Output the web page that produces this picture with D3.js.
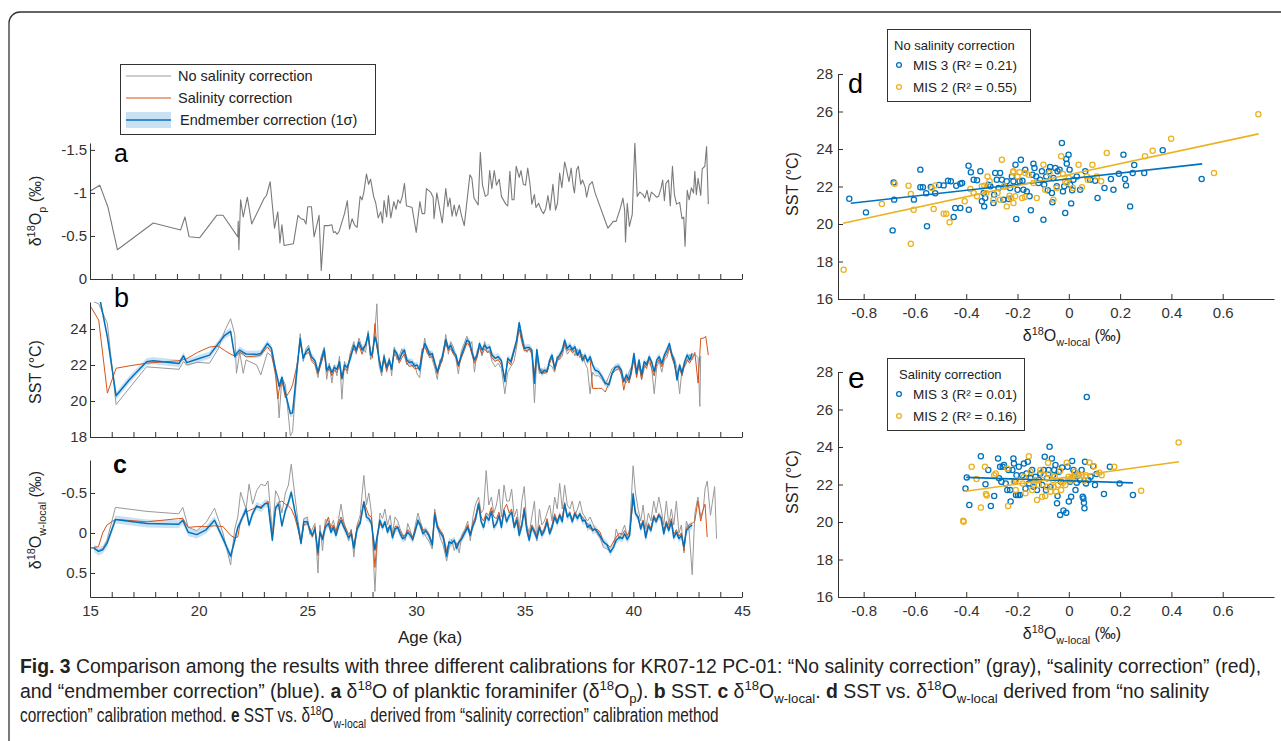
<!DOCTYPE html>
<html>
<head>
<meta charset="utf-8">
<script src="https://cdn.jsdelivr.net/npm/d3@7"></script>
<style>
  body { margin: 0; background: #fff; }
  svg { font-family: "Liberation Sans", Arial, sans-serif; }
</style>
</head>
<body>
<svg id="fig" width="1281" height="741"></svg>
<script>
// ---------- panel a: d18O of planktic foraminifer ----------
const ageA = [15.00,15.45,15.82,16.26,17.91,19.17,19.37,19.56,20.05,20.83,
  21.12,21.80,21.82,21.85,21.93,22.05,22.24,22.44,23.02,23.12,
  23.29,23.49,23.64,23.74,23.83,23.93,24.36,24.57,24.71,24.84,
  24.94,25.02,25.19,25.31,25.54,25.64,25.78,25.97,26.13,26.20,
  26.28,26.36,26.46,26.59,26.71,26.84,26.94,27.06,27.17,27.29,
  27.43,27.52,27.60,27.72,27.82,27.91,28.05,28.15,28.26,28.38,
  28.46,28.53,28.65,28.73,28.84,28.98,29.08,29.17,29.27,29.37,
  29.47,29.56,29.82,30.01,30.18,30.28,30.40,30.48,30.67,30.79,
  30.83,30.96,31.10,31.21,31.37,31.47,31.56,31.66,31.76,31.85,
  31.99,32.09,32.22,32.48,32.57,32.67,32.86,32.96,33.06,33.19,
  33.31,33.39,33.49,33.60,33.70,33.83,33.93,34.13,34.22,34.32,
  34.42,34.51,34.61,34.75,34.83,34.94,35.04,35.14,35.25,35.33,
  35.45,35.52,35.64,35.78,35.87,35.97,36.07,36.17,36.30,36.42,
  36.51,36.61,36.71,36.84,36.94,37.04,37.14,37.23,37.29,37.39,
  37.47,37.58,37.66,37.78,37.85,37.97,38.11,38.24,38.83,39.08,
  39.21,39.41,39.52,39.60,39.64,39.72,39.82,39.95,40.07,40.18,
  40.30,40.44,40.53,40.63,40.73,40.83,40.96,41.06,41.16,41.27,
  41.35,41.43,41.50,41.62,41.70,41.80,41.89,41.99,42.13,42.24,
  42.32,42.38,42.48,42.57,42.67,42.77,42.83,42.90,42.98,43.10,
  43.17,43.29,43.37,43.45];
const d18Op = [-1.02,-1.09,-0.84,-0.34,-0.65,-0.57,-0.72,-0.49,-0.48,-0.74,
  -0.74,-0.49,-0.67,-0.34,-0.92,-0.72,-0.95,-0.64,-0.94,-0.97,
  -1.13,-0.59,-0.78,-0.42,-0.63,-0.39,-0.41,-0.74,-0.70,-0.69,
  -0.64,-0.84,-0.84,-0.49,-0.74,-0.10,-0.62,-0.62,-0.63,-0.54,
  -0.55,-0.52,-0.55,-0.66,-0.76,-0.91,-0.58,-0.70,-0.63,-0.60,
  -0.96,-0.92,-1.01,-1.22,-1.10,-1.16,-0.96,-0.88,-0.71,-0.78,
  -0.65,-0.91,-0.72,-0.97,-0.71,-0.90,-0.81,-0.92,-0.88,-0.96,
  -1.11,-0.85,-0.83,-0.54,-0.90,-0.76,-0.76,-1.05,-1.01,-0.95,
  -0.70,-1.00,-0.80,-0.65,-1.05,-0.84,-0.94,-0.73,-0.86,-0.73,
  -0.86,-0.74,-0.62,-1.21,-1.17,-0.94,-0.86,-1.47,-1.09,-0.96,
  -0.98,-1.26,-1.05,-1.26,-1.09,-1.16,-0.96,-0.87,-0.85,-1.25,
  -0.92,-0.92,-1.31,-1.18,-1.26,-1.10,-1.09,-1.29,-1.09,-0.87,
  -0.98,-0.83,-0.88,-0.79,-0.76,-0.82,-0.97,-0.80,-1.10,-0.80,
  -0.88,-1.23,-1.06,-1.36,-1.25,-1.13,-1.29,-1.08,-1.00,-1.27,
  -1.31,-1.10,-1.15,-1.07,-0.95,-1.09,-1.13,-1.00,-0.59,-0.67,
  -0.67,-0.83,-0.94,-0.80,-0.43,-0.88,-0.61,-0.75,-1.58,-0.96,
  -1.01,-0.98,-0.94,-1.03,-0.90,-1.01,-0.98,-0.95,-0.96,-1.05,
  -1.15,-0.91,-1.11,-1.15,-0.85,-1.31,-0.98,-0.87,-0.89,-0.70,
  -0.72,-0.38,-1.03,-0.92,-1.06,-1.00,-1.25,-0.98,-1.17,-0.97,
  -1.28,-1.31,-1.54,-0.87];

// ---------- panel b: SST ----------
const ageB = [15.0,15.4,15.8,16.2,16.8,17.6,17.9,19.1,19.3,19.45,
  19.95,20.5,20.9,21.2,21.47,21.66,21.74,21.89,22.05,22.18,
  22.67,22.86,23.16,23.35,23.54,23.64,23.70,23.83,23.99,24.22,
  24.32,24.51,24.67,24.81,
  24.94,25.06,25.19,25.35,25.49,25.62,25.78,25.89,26.01,26.13,
  26.24,26.36,26.48,26.59,26.71,26.84,26.98,27.14,27.25,27.37,
  27.52,27.68,27.80,27.91,27.99,28.11,28.20,28.30,28.42,28.53,
  28.65,28.77,28.88,29.00,29.12,29.23,29.35,29.47,29.58,29.70,
  29.82,29.93,30.05,30.17,30.28,30.40,30.52,30.63,30.75,30.87,
  30.98,31.10,31.21,31.37,31.49,31.60,31.72,31.84,31.95,32.09,
  32.22,32.34,32.46,32.57,32.69,32.81,32.92,33.04,33.16,33.27,
  33.39,33.50,33.64,33.78,33.93,34.09,34.22,34.36,34.51,34.63,
  34.75,34.86,34.98,35.10,35.21,35.33,35.45,35.56,35.68,35.79,
  35.91,36.03,36.15,36.26,36.38,36.50,36.61,36.73,36.84,36.96,
  37.08,37.19,37.31,37.43,37.54,37.66,37.78,37.89,38.01,38.13,
  38.24,38.40,38.55,38.71,38.88,39.02,39.17,39.33,39.45,39.56,
  39.68,39.80,39.91,40.03,40.15,40.26,40.38,40.50,40.61,40.73,
  40.84,40.96,41.08,41.19,41.31,41.43,41.54,41.66,41.78,41.89,
  42.01,42.13,42.24,42.36,42.48,42.59,42.71,
  42.83,42.98,43.06,43.10,43.25,43.33,43.45];
const sstEnd = [null,26.0,23.56,20.29,21.17,22.18,22.24,22.09,22.51,22.13,
  22.33,22.55,23.19,23.65,23.87,22.46,22.64,22.83,22.70,22.61,
  22.59,22.64,23.19,22.92,21.72,21.20,20.81,21.32,20.44,19.30,
  19.34,21.63,23.47,22.37,
  22.73,22.92,22.46,22.24,21.63,22.18,22.86,21.72,21.94,21.58,
  21.87,21.76,22.18,21.27,22.00,21.87,22.37,23.10,22.83,23.28,
  22.83,23.10,23.74,22.55,22.64,23.56,23.19,22.28,21.63,22.46,
  21.87,22.28,21.76,22.83,22.64,22.28,22.64,22.83,22.28,22.13,
  22.18,21.94,22.00,21.72,22.55,23.19,22.92,22.55,22.64,22.09,
  21.63,22.09,22.46,23.41,22.92,23.10,22.73,22.55,22.00,22.55,
  22.97,23.38,23.28,22.73,22.28,22.55,23.19,22.83,23.10,22.92,
  23.01,22.55,22.37,22.46,22.24,21.08,22.37,22.18,22.83,23.38,
  24.35,23.56,22.92,22.97,22.97,22.83,20.99,22.86,21.82,21.54,
  21.72,21.63,22.28,22.55,21.82,22.37,22.55,22.83,23.38,22.92,
  23.10,22.83,23.01,22.55,22.83,22.28,22.55,22.18,22.46,22.00,
  21.72,21.63,21.36,20.99,20.90,21.54,21.87,21.91,21.72,21.08,
  21.45,21.17,21.72,22.64,21.54,22.28,21.45,22.18,22.00,22.46,
  22.18,21.63,22.28,22.46,22.09,22.55,22.83,23.19,22.55,22.18,
  21.17,22.00,21.54,22.18,22.55,22.28,22.64,
  null,null,null,null,null,null,null];
const sstSal = [25.3,24.5,20.44,21.82,21.95,22.1,22.13,22.24,22.3,22.35,
  22.7,23.0,23.05,22.8,22.6,22.5,22.5,22.7,22.6,22.45,
  22.5,22.55,23.0,22.7,21.4,20.11,20.6,21.14,20.17,20.6,
  20.9,21.9,23.2,22.5,
  22.6,22.7,22.3,22.1,21.5,22.0,22.7,21.6,21.8,21.4,
  21.7,21.6,22.0,21.2,21.8,21.7,22.6,22.9,22.7,23.1,
  22.6,23.2,23.5,22.8,22.4,24.3,23.0,22.4,21.8,22.3,
  21.7,22.1,21.9,22.6,22.5,22.1,22.4,22.6,22.1,21.9,
  22.0,21.8,21.8,21.9,22.9,23.0,22.7,22.4,22.5,22.0,
  21.5,21.9,22.3,23.2,22.8,22.9,22.6,22.4,21.9,22.4,
  22.8,23.2,23.1,22.6,22.1,22.4,23.0,22.6,22.9,22.7,
  22.8,22.4,22.2,22.3,22.0,21.3,22.2,22.0,22.7,23.2,
  24.0,23.3,22.8,22.8,22.9,22.6,21.5,22.7,21.7,21.5,
  21.6,21.6,22.1,22.4,21.7,22.2,22.4,22.7,23.2,22.8,
  22.9,22.7,22.8,22.5,22.7,22.2,22.4,22.3,22.3,20.7,
  20.7,20.7,20.7,20.5,21.0,21.5,21.7,21.8,21.5,20.6,
  21.3,21.0,21.5,22.4,21.3,22.1,21.2,22.0,21.8,22.4,
  21.8,21.4,22.1,22.3,21.9,22.4,22.6,23.0,22.4,22.0,
  21.4,21.8,21.4,22.0,22.3,22.1,22.4,
  22.7,20.99,null,23.47,23.5,23.6,22.55];
const sstNo = [25.6,25.4,24.3,19.8,20.7,21.9,21.87,21.76,22.2,22.0,
  22.15,22.1,22.9,23.9,24.57,23.7,21.54,22.7,21.54,22.28,
  22.0,21.45,22.68,22.5,21.6,20.4,19.06,21.3,20.9,18.05,
  18.3,21.36,23.74,22.2,
  22.9,23.1,22.2,22.0,21.3,22.4,23.0,21.2,22.1,21.0,
  22.0,21.4,22.5,20.1,22.2,21.5,22.7,23.3,22.6,23.5,
  23.0,22.7,23.9,22.3,22.4,23.9,25.4,22.0,21.4,22.6,
  21.6,22.4,21.4,23.0,22.3,22.5,22.9,22.5,22.0,22.3,
  21.9,22.1,21.5,21.3,22.4,23.5,22.6,22.8,22.3,21.8,
  21.2,22.3,22.2,23.7,22.6,23.3,23.0,22.3,21.5,22.8,
  23.2,23.6,23.0,23.3,21.6,22.8,23.0,22.5,23.3,22.7,
  22.7,22.2,21.9,22.1,21.8,20.4,21.6,21.9,22.2,23.0,
  24.3,23.8,23.1,22.7,22.9,22.7,19.9,22.4,21.5,21.8,
  21.5,21.8,22.0,21.9,21.6,22.5,22.3,22.5,23.1,22.6,
  22.8,23.0,22.5,22.9,22.4,22.6,22.1,21.8,20.4,21.6,
  21.4,21.4,21.2,20.9,21.4,21.8,21.9,22.0,21.4,21.2,
  21.0,21.6,21.9,22.2,21.4,22.0,21.2,21.8,22.2,22.1,
  21.9,20.4,21.9,22.2,21.6,22.3,22.4,22.9,22.6,22.4,
  21.8,20.4,21.8,21.9,22.2,22.6,22.3,
  22.6,22.4,19.7,22.5,null,null,null];
const sstSigma = 0.2;

// ---------- panel c: d18O w-local ----------
const ageC = [15.00,15.19,15.39,15.58,15.78,16.17,17.62,19.08,19.27,19.52,
  19.91,20.34,20.73,21.12,21.47,21.66,21.80,21.93,22.18,22.32,
  22.48,22.67,22.86,23.06,23.19,23.39,23.54,23.68,23.83,23.99,
  24.13,24.26,24.42,24.57,24.71,24.84,
  25.00,25.12,25.23,25.35,25.49,25.58,25.70,25.83,25.97,26.09,
  26.20,26.32,26.44,26.55,26.67,26.79,26.90,27.02,27.14,27.29,
  27.43,27.60,27.72,27.83,27.95,28.11,28.22,28.34,28.46,28.57,
  28.69,28.81,28.92,29.04,29.16,29.27,29.39,29.50,29.62,29.74,
  29.85,29.97,30.09,30.20,30.32,30.44,30.59,30.75,30.86,30.98,
  31.10,31.25,31.41,31.52,31.64,31.76,31.87,31.99,32.11,32.26,
  32.38,32.50,32.62,32.73,32.88,33.00,33.11,33.23,33.35,33.47,
  33.58,33.70,33.82,33.93,34.05,34.17,34.29,34.40,34.52,34.64,
  34.75,34.87,34.98,35.10,35.21,35.33,35.45,35.56,35.68,35.79,
  35.91,36.03,36.15,36.26,36.38,36.50,36.61,36.73,36.84,36.96,
  37.08,37.19,37.31,37.43,37.54,37.66,37.78,37.89,38.01,38.13,
  38.24,38.36,38.47,38.63,38.79,38.94,39.10,39.21,39.37,39.49,
  39.60,39.72,39.83,39.99,40.10,40.22,40.34,40.45,40.57,40.69,
  40.81,40.94,41.05,41.17,41.28,41.40,41.52,41.63,41.75,41.86,
  41.98,42.10,42.21,42.33,42.44,42.56,42.71,
  42.83,42.97,43.10,43.22,43.30,43.40,43.55,43.74,43.83];
const dwEnd = [null,0.19,0.23,0.21,0.13,-0.17,-0.12,-0.11,-0.16,-0.01,
  0.02,-0.04,-0.16,0.07,0.29,0.09,-0.07,-0.14,-0.30,-0.10,
  -0.24,-0.34,-0.31,-0.37,-0.37,0.09,-0.32,-0.36,-0.09,-0.28,
  -0.38,-0.51,-0.28,-0.09,0.13,-0.14,
  -0.14,-0.03,0.03,-0.05,0.24,-0.01,0.08,-0.07,-0.12,-0.01,
  -0.07,0.03,-0.09,-0.16,-0.08,-0.01,0.06,0.01,0.19,-0.05,
  -0.12,-0.38,-0.20,-0.18,-0.12,0.21,0.03,-0.16,-0.07,-0.14,
  -0.01,-0.09,0.06,-0.05,-0.07,0.01,0.07,0.05,-0.01,0.03,
  0.08,-0.03,-0.16,-0.09,0.01,-0.03,0.03,0.15,-0.23,-0.07,
  -0.01,0.05,0.29,0.11,0.13,0.09,0.19,0.11,0.07,-0.01,
  -0.07,0.03,-0.09,-0.16,-0.36,-0.14,-0.07,-0.21,-0.16,-0.27,
  -0.07,-0.12,-0.22,-0.07,-0.28,-0.14,-0.22,-0.26,-0.07,-0.16,
  0.03,-0.09,-0.29,-0.03,0.09,-0.07,-0.01,0.07,-0.07,0.03,
  -0.03,-0.14,0.01,-0.07,-0.20,-0.12,-0.22,-0.14,-0.36,-0.20,
  -0.24,-0.14,-0.24,-0.18,-0.24,-0.15,-0.16,-0.07,-0.10,-0.03,
  -0.05,-0.01,0.04,0.11,0.15,0.24,0.17,0.09,0.05,0.07,
  0.01,0.08,0.03,-0.49,-0.24,-0.20,-0.05,-0.14,0.06,-0.09,
  -0.03,-0.20,-0.14,-0.22,-0.18,0.01,-0.12,-0.03,-0.14,0.06,
  -0.01,0.07,0.03,0.17,-0.03,-0.07,-0.10,
  null,null,null,null,null,null,null,null,null];
const dwSal = [0.19,0.18,0.17,0.00,-0.10,-0.17,-0.14,-0.18,-0.18,-0.07,
  -0.08,-0.08,-0.09,-0.08,0.03,0.06,0.05,-0.16,-0.26,-0.28,
  -0.30,-0.32,-0.33,-0.36,-0.40,0.05,-0.30,-0.38,-0.40,-0.36,
  -0.34,-0.30,-0.20,-0.05,0.12,-0.10,
  -0.12,-0.06,0.05,-0.08,0.28,-0.02,0.05,-0.10,-0.20,-0.05,
  -0.10,-0.02,-0.14,-0.20,-0.12,-0.05,0.02,-0.03,0.16,-0.08,
  -0.15,-0.40,-0.30,-0.22,-0.20,0.43,0.05,-0.12,-0.06,-0.12,
  -0.05,-0.10,0.03,-0.08,-0.08,-0.02,0.04,0.03,-0.04,0.00,
  0.05,-0.06,-0.12,-0.12,-0.03,-0.05,0.01,0.12,-0.26,-0.10,
  -0.04,0.02,0.22,0.12,0.12,0.10,0.15,0.10,0.05,-0.03,
  -0.10,0.00,-0.12,-0.20,-0.38,-0.20,-0.15,-0.25,-0.22,-0.32,
  -0.20,-0.18,-0.26,-0.10,-0.30,-0.36,-0.25,-0.30,-0.10,-0.20,
  -0.02,-0.12,-0.32,-0.06,0.05,-0.10,-0.04,0.04,-0.10,0.00,
  -0.06,-0.18,-0.02,-0.10,-0.24,-0.15,-0.24,-0.18,-0.38,-0.22,
  -0.26,-0.16,-0.26,-0.20,-0.24,-0.20,-0.14,-0.12,-0.05,-0.05,
  -0.05,-0.04,-0.01,0.12,0.14,0.18,0.10,0.05,0.00,0.02,
  -0.03,0.03,-0.02,-0.40,-0.25,-0.18,-0.08,-0.16,0.03,-0.12,
  -0.06,-0.22,-0.16,-0.24,-0.20,-0.03,-0.15,-0.06,-0.18,0.02,
  -0.04,0.04,0.00,0.22,-0.06,-0.10,-0.12,
  -0.15,-0.40,-0.15,-0.30,-0.36,0.05,null,null,null];
const dwNo = [0.18,0.20,0.22,0.20,0.09,-0.32,-0.27,-0.24,-0.32,-0.07,
  -0.03,-0.13,-0.31,0.00,0.40,-0.05,-0.20,-0.51,-0.30,-0.61,
  -0.36,-0.53,-0.61,-0.59,-0.65,0.00,-0.53,-0.45,-0.25,-0.50,
  -0.60,-0.86,-0.48,-0.15,0.09,-0.18,
  -0.20,0.02,-0.05,-0.12,0.50,-0.10,0.22,-0.17,-0.15,-0.08,
  -0.16,0.00,-0.18,-0.36,-0.15,-0.02,0.10,-0.05,0.30,-0.10,
  -0.22,-0.72,-0.35,-0.50,-0.25,0.73,0.10,-0.25,-0.18,-0.30,
  -0.10,-0.22,0.00,-0.20,-0.15,-0.05,0.02,0.09,-0.12,-0.03,
  0.10,-0.10,-0.25,-0.14,-0.05,0.04,0.10,0.20,-0.30,-0.12,
  0.05,0.15,0.35,0.20,0.08,0.22,0.12,0.25,0.02,-0.05,
  -0.15,0.10,-0.20,-0.35,-0.45,-0.25,-0.30,-0.78,-0.35,-0.45,
  -0.25,-0.35,-0.55,-0.20,-0.60,-0.40,-0.40,-0.55,-0.20,-0.30,
  -0.05,-0.40,-0.58,-0.10,0.00,-0.20,-0.40,0.10,-0.30,-0.10,
  -0.15,-0.25,-0.35,-0.15,-0.45,-0.30,-0.62,-0.30,-0.60,-0.35,
  -0.30,-0.40,-0.22,-0.30,-0.40,-0.25,-0.20,-0.15,-0.20,-0.12,
  -0.05,0.02,0.06,0.18,0.20,0.22,0.18,-0.05,0.08,-0.02,
  -0.10,0.05,-0.05,-0.84,-0.50,-0.30,-0.15,-0.35,-0.05,-0.25,
  -0.15,-0.40,-0.25,-0.45,-0.30,-0.10,-0.40,-0.10,-0.30,-0.10,
  -0.40,0.00,-0.10,0.25,-0.15,-0.05,0.52,
  -0.24,-0.45,-0.20,-0.30,-0.55,-0.65,-0.22,-0.58,0.07];
const dwSigma = 0.05;

// ---------- panels d, e: SST vs d18O w-local ----------
const dMis3 = [[-0.856,21.35],[-0.791,20.62],[-0.687,19.66],[-0.683,22.22],[-0.681,21.30],[-0.604,21.30],[-0.579,22.90],[-0.579,21.96],[-0.569,21.96],[-0.556,21.64],
  [-0.553,19.88],[-0.538,21.97],[-0.521,21.64],[-0.506,22.08],[-0.488,22.06],[-0.471,22.31],[-0.460,22.28],[-0.449,20.37],[-0.443,20.85],[-0.439,22.04],
  [-0.423,22.15],[-0.416,22.19],[-0.423,20.85],[-0.391,23.11],[-0.382,22.76],[-0.390,20.76],[-0.371,22.36],[-0.358,22.33],[-0.345,22.81],[-0.339,21.21],
  [-0.332,21.65],[-0.330,20.94],[-0.326,21.39],[-0.313,22.10],[-0.306,22.01],[-0.294,21.12],[-0.291,21.56],[-0.287,22.72],[-0.281,22.36],[-0.274,21.92],
  [-0.268,22.72],[-0.261,22.36],[-0.255,21.30],[-0.248,22.01],[-0.242,22.28],[-0.235,21.33],[-0.229,21.92],[-0.222,22.54],[-0.216,22.28],[-0.208,23.16],
  [-0.205,20.27],[-0.200,21.83],[-0.192,22.28],[-0.187,23.43],[-0.181,22.31],[-0.177,21.83],[-0.170,22.90],[-0.164,21.74],[-0.153,21.48],[-0.148,20.73],
  [-0.142,22.63],[-0.138,23.22],[-0.134,22.99],[-0.127,22.54],[-0.118,22.19],[-0.112,22.36],[-0.105,22.81],[-0.099,20.23],[-0.096,22.10],[-0.088,22.54],
  [-0.082,21.80],[-0.078,22.81],[-0.073,23.04],[-0.066,21.65],[-0.064,21.16],[-0.060,22.45],[-0.053,22.99],[-0.047,22.01],[-0.044,22.81],[-0.036,22.90],
  [-0.027,24.32],[-0.023,21.74],[-0.018,22.01],[-0.014,20.59],[-0.010,23.47],[-0.008,23.22],[-0.001,23.70],[0.003,22.90],[0.005,22.10],[0.009,21.10],
  [0.013,21.80],[0.018,22.36],[0.031,22.54],[0.044,21.83],[0.064,22.81],[0.083,22.36],[0.103,22.31],[0.112,21.39],[0.139,21.92],[0.164,22.40],
  [0.174,21.83],[0.195,22.68],[0.213,23.70],[0.219,22.40],[0.223,22.06],[0.239,20.94],[0.249,22.72],[0.255,23.15],[0.294,22.72],[0.366,23.93],[0.518,22.40]];
const dMis2 = [[-0.878,17.56],[-0.729,21.07],[-0.679,22.15],[-0.625,22.04],[-0.616,21.60],[-0.616,18.95],[-0.605,20.76],[-0.534,21.92],[-0.527,20.80],[-0.521,22.06],
  [-0.488,20.55],[-0.478,20.55],[-0.465,20.09],[-0.406,21.21],[-0.384,21.87],[-0.358,21.48],[-0.339,22.01],[-0.330,22.04],[-0.317,22.54],[-0.309,22.28],
  [-0.294,21.30],[-0.278,21.65],[-0.268,21.30],[-0.261,23.43],[-0.252,22.04],[-0.242,20.94],[-0.231,21.51],[-0.225,21.39],[-0.218,22.76],[-0.216,21.12],
  [-0.209,21.48],[-0.200,22.54],[-0.192,22.76],[-0.182,21.39],[-0.171,21.44],[-0.157,22.63],[-0.138,22.19],[-0.125,21.39],[-0.099,23.16],[-0.092,21.83],
  [-0.075,22.72],[-0.060,21.30],[-0.047,21.92],[-0.030,23.61],[-0.023,22.67],[-0.014,22.28],[-0.008,22.19],[0.000,22.45],[0.016,21.92],[0.038,23.16],
  [0.051,21.96],[0.070,22.54],[0.074,22.36],[0.092,23.16],[0.109,22.54],[0.126,22.28],[0.148,23.79],[0.297,23.61],[0.327,23.91],[0.399,24.55],
  [0.566,22.72],[0.739,25.85],[-0.216,22.81],[-0.170,22.72],[-0.322,21.65],[-0.371,21.65]];
const eMis3 = [[-0.403,21.79],[-0.398,22.38],[-0.388,20.91],[-0.343,23.51],[-0.325,22.01],[-0.314,22.77],[-0.304,20.85],[-0.291,21.39],[-0.276,23.39],[-0.272,22.33],
  [-0.268,22.95],[-0.263,22.15],[-0.258,22.95],[-0.253,23.04],[-0.246,22.06],[-0.240,21.71],[-0.235,22.77],[-0.229,21.71],[-0.227,21.09],[-0.220,22.77],
  [-0.216,23.39],[-0.214,23.12],[-0.210,22.15],[-0.206,21.44],[-0.204,22.50],[-0.198,21.44],[-0.195,22.95],[-0.191,21.44],[-0.182,22.50],[-0.175,23.12],
  [-0.169,21.79],[-0.165,22.59],[-0.160,23.21],[-0.155,22.06],[-0.149,22.33],[-0.143,22.77],[-0.137,21.88],[-0.130,22.41],[-0.124,21.71],[-0.117,22.24],
  [-0.111,22.59],[-0.104,21.97],[-0.098,22.77],[-0.094,23.48],[-0.089,21.71],[-0.085,22.33],[-0.079,22.77],[-0.075,24.01],[-0.072,21.88],[-0.066,23.39],
  [-0.062,22.50],[-0.057,22.77],[-0.052,23.04],[-0.046,21.00],[-0.044,21.39],[-0.039,22.68],[-0.034,20.38],[-0.031,22.15],[-0.026,22.91],[-0.021,20.61],
  [-0.010,20.50],[-0.005,22.95],[0.000,21.09],[0.005,22.15],[0.009,21.35],[0.013,23.25],[0.018,22.77],[0.022,22.45],[0.026,21.71],[0.031,22.10],
  [0.037,22.50],[0.044,22.24],[0.050,22.77],[0.054,21.35],[0.057,21.26],[0.059,21.03],[0.061,20.73],[0.063,23.21],[0.067,22.06],[0.070,26.67],
  [0.076,22.24],[0.085,22.41],[0.095,22.98],[0.102,21.97],[0.108,22.56],[0.137,21.49],[0.160,22.95],[0.250,21.44],[0.198,22.06]];
const eMis2 = [[-0.412,20.07],[-0.410,20.02],[-0.379,22.95],[-0.360,22.29],[-0.343,20.77],[-0.327,22.95],[-0.323,21.49],[-0.320,21.42],[-0.291,22.50],[-0.285,22.59],
  [-0.240,22.86],[-0.237,20.85],[-0.207,21.71],[-0.205,22.24],[-0.175,22.41],[-0.169,21.53],[-0.156,23.51],[-0.149,22.68],[-0.143,21.71],[-0.137,22.06],
  [-0.124,21.17],[-0.117,21.97],[-0.111,22.77],[-0.104,21.35],[-0.098,22.50],[-0.092,21.39],[-0.085,21.88],[-0.081,23.16],[-0.077,22.56],[-0.072,21.62],
  [-0.062,22.24],[-0.055,22.41],[-0.050,21.62],[-0.043,21.97],[-0.034,22.73],[-0.030,21.71],[-0.023,22.10],[-0.014,21.97],[-0.008,23.16],[-0.001,22.41],
  [0.005,22.27],[0.015,22.20],[0.024,22.68],[0.035,22.50],[0.050,22.50],[0.059,22.20],[0.067,22.49],[0.080,23.18],[0.098,22.98],[0.119,22.63],
  [0.128,22.50],[0.177,22.95],[0.282,21.67],[0.428,24.24],[-0.214,22.15],[-0.180,22.06],[-0.130,22.24],[-0.059,21.88],[-0.021,22.24],[0.012,22.41]];
// regression lines: [x from, x to, slope, intercept]
const fitD3 = [-0.85, 0.52, 1.53, 22.41];
const fitD2 = [-0.88, 0.74, 2.94, 22.63];
const fitE3 = [-0.40, 0.25, -0.45, 22.20];
const fitE2 = [-0.41, 0.43, 1.89, 22.40];

const ageLabels = [15, 20, 25, 30, 35, 40, 45];
const scatterXTicks = [-0.8, -0.6, -0.4, -0.2, 0, 0.2, 0.4, 0.6];
const scatterYTicks = [16, 18, 20, 22, 24, 26, 28];

const cGray = "#999", cGrayA = "#7a7a7a", cRed = "#D95319", cBlue = "#0072BD",
  cBand = "#c9e1f2", cYellow = "#EDB120", ink = "#333";

const svg = d3.select("#fig");

// outer frame
svg.append("rect").attr("x", 9).attr("y", 12).attr("width", 1300).attr("height", 780)
  .attr("rx", 11).attr("fill", "none").attr("stroke", ink).attr("stroke-width", 1.3);

// writes parts like δ, 18 (sup), O, w-local (sub) into a text element
function rich(text, parts, fs) {
  let shift = 0;
  parts.forEach(p => {
    const s = p.s === "sup" ? -0.38 * fs : p.s === "sub" ? 0.3 * fs : 0;
    text.append("tspan").attr("dy", s - shift)
      .attr("font-size", p.s ? fs * 0.68 : fs)
      .attr("font-weight", p.b ? "bold" : null)
      .text(p.t);
    shift = s;
  });
  return text;
}

function styleAxis(g) {
  g.attr("font-size", 15).attr("font-family", null);
  g.selectAll(".domain").attr("stroke", ink);
  g.selectAll(".tick line").attr("stroke", ink);
  g.selectAll(".tick text").attr("fill", ink);
}

function pairs(ages, vals) {
  return ages.map((a, i) => [a, vals[i]]).filter(d => d[1] != null);
}

const ageX = d3.scaleLinear().domain([15, 45]).range([90, 742]);
const ageMinor = d3.range(15, 46);

function timePanel(p) {
  const y = d3.scaleLinear().domain(p.domain).range([p.bottom, p.top]);
  svg.append("clipPath").attr("id", "clip-" + p.name).append("rect")
    .attr("x", ageX(15)).attr("y", p.top)
    .attr("width", ageX(45) - ageX(15)).attr("height", p.bottom - p.top);
  const plot = svg.append("g").attr("clip-path", "url(#clip-" + p.name + ")");
  const line = d3.line().x(d => ageX(d[0])).y(d => y(d[1]));
  if (p.band) {
    plot.append("path").datum(pairs(p.ages, p.band.vals))
      .attr("fill", cBand)
      .attr("d", d3.area().x(d => ageX(d[0]))
        .y0(d => y(d[1] - p.band.sigma)).y1(d => y(d[1] + p.band.sigma)));
  }
  p.series.forEach(s => {
    plot.append("path").datum(pairs(p.ages, s.vals))
      .attr("fill", "none").attr("stroke", s.color).attr("stroke-width", s.width)
      .attr("stroke-linejoin", "round").attr("d", line);
  });
  svg.append("g").attr("transform", "translate(0," + p.bottom + ")")
    .call(d3.axisBottom(ageX).tickValues(ageMinor).tickSizeInner(-5).tickSizeOuter(0)
      .tickPadding(8).tickFormat(d => p.xLabels && ageLabels.includes(d) ? d : ""))
    .call(styleAxis);
  svg.append("g").attr("transform", "translate(" + ageX(15) + ",0)")
    .call(d3.axisLeft(y).tickValues(p.yTicks).tickSizeInner(-5).tickSizeOuter(0)
      .tickPadding(3).tickFormat(d => String(d)))
    .call(styleAxis);
  svg.append("text").attr("x", p.letter[0]).attr("y", p.letter[1])
    .attr("font-size", p.letter[2]).attr("font-weight", p.letter[3] || null)
    .text(p.name);
  rich(svg.append("text").attr("text-anchor", "middle").attr("fill", "#222")
    .attr("transform", "translate(41," + p.labelY + ") rotate(-90)"), p.label, 16);
}

timePanel({ name: "a", domain: [0, -1.58], top: 143, bottom: 279, yTicks: [-1.5, -1, -0.5, 0],
  ages: ageA, series: [{ vals: d18Op, color: cGrayA, width: 1.1 }],
  letter: [114, 162, 25], labelY: 211,
  label: [{ t: "δ" }, { t: "18", s: "sup" }, { t: "O" }, { t: "p", s: "sub" }, { t: " (‰)" }] });

timePanel({ name: "b", domain: [18, 25.5], top: 302, bottom: 437, yTicks: [18, 20, 22, 24],
  ages: ageB, band: { vals: sstEnd, sigma: sstSigma },
  series: [{ vals: sstNo, color: cGray, width: 1 }, { vals: sstSal, color: cRed, width: 1 },
    { vals: sstEnd, color: cBlue, width: 1.5 }],
  letter: [114, 307, 27], labelY: 372,
  label: [{ t: "SST (°C)" }] });

timePanel({ name: "c", domain: [0.8, -0.9125], top: 460, bottom: 597, yTicks: [-0.5, 0, 0.5],
  ages: ageC, band: { vals: dwEnd, sigma: dwSigma }, xLabels: true,
  series: [{ vals: dwNo, color: cGray, width: 1 }, { vals: dwSal, color: cRed, width: 1 },
    { vals: dwEnd, color: cBlue, width: 1.5 }],
  letter: [113, 473, 25, "bold"], labelY: 520,
  label: [{ t: "δ" }, { t: "18", s: "sup" }, { t: "O" }, { t: "w-local", s: "sub" }, { t: " (‰)" }] });

svg.append("text").attr("x", 430).attr("y", 643).attr("text-anchor", "middle")
  .attr("font-size", 17).attr("fill", "#222").text("Age (ka)");

// legend of the time series
const lg = svg.append("g");
lg.append("rect").attr("x", 120.5).attr("y", 64.5).attr("width", 255).attr("height", 70)
  .attr("fill", "#fff").attr("stroke", ink);
lg.append("rect").attr("x", 126).attr("y", 112).attr("width", 45).attr("height", 16).attr("fill", cBand);
[["No salinity correction", cGray, 76], ["Salinity correction", cRed, 98],
 ["Endmember correction (1σ)", cBlue, 120]].forEach((r, i) => {
  lg.append("line").attr("x1", 126).attr("x2", 171).attr("y1", r[2]).attr("y2", r[2])
    .attr("stroke", r[1]).attr("stroke-width", i === 2 ? 1.5 : 1.2);
  lg.append("text").attr("x", i === 2 ? 180 : 178).attr("y", r[2] + 5)
    .attr("font-size", 14.5).attr("fill", "#222").text(r[0]);
});

// scatter panels
const sx = d3.scaleLinear().domain([-0.9, 0.8]).range([838, 1274]);

function scatterPanel(p) {
  const y = d3.scaleLinear().domain([16, 28]).range([p.bottom, p.bottom - 225]);
  svg.append("g").attr("transform", "translate(0," + p.bottom + ")")
    .call(d3.axisBottom(sx).tickValues(scatterXTicks).tickSizeInner(-5).tickSizeOuter(0)
      .tickPadding(8).tickFormat(d => String(d)))
    .call(styleAxis);
  svg.append("g").attr("transform", "translate(" + sx(-0.9) + ",0)")
    .call(d3.axisLeft(y).tickValues(scatterYTicks).tickSizeInner(-5).tickSizeOuter(0)
      .tickPadding(5).tickFormat(d => String(d)))
    .call(styleAxis);
  [[p.mis3, cBlue], [p.mis2, cYellow]].forEach(s => {
    svg.append("g").selectAll("circle").data(s[0]).enter().append("circle")
      .attr("cx", d => sx(d[0])).attr("cy", d => y(d[1])).attr("r", 2.6)
      .attr("fill", "none").attr("stroke", s[1]).attr("stroke-width", 1.3);
  });
  [[p.fit3, cBlue], [p.fit2, cYellow]].forEach(f => {
    const a = f[0];
    svg.append("line").attr("x1", sx(a[0])).attr("y1", y(a[3] + a[2] * a[0]))
      .attr("x2", sx(a[1])).attr("y2", y(a[3] + a[2] * a[1]))
      .attr("stroke", f[1]).attr("stroke-width", 1.6);
  });
  svg.append("text").attr("x", 848).attr("y", p.letter[1]).attr("font-size", p.letter[0])
    .text(p.name);
  svg.append("text").attr("text-anchor", "middle").attr("font-size", 16).attr("fill", "#222")
    .attr("transform", "translate(798," + (p.bottom - 115) + ") rotate(-90)").text("SST (°C)");
  rich(svg.append("text").attr("x", 1072).attr("y", p.bottom + 42).attr("text-anchor", "middle")
    .attr("fill", "#222"),
    [{ t: "δ" }, { t: "18", s: "sup" }, { t: "O" }, { t: "w-local", s: "sub" }, { t: " (‰)" }], 16);
  // legend
  const b = p.legend;
  svg.append("rect").attr("x", 887.5).attr("y", b.y + 0.5).attr("width", b.w).attr("height", 72)
    .attr("fill", "#fff").attr("stroke", ink);
  svg.append("text").attr("x", b.tx).attr("y", b.y + 21).attr("font-size", 13).attr("fill", "#222")
    .text(b.title);
  [[b.r3, cBlue, "MIS 3"], [b.r2, cYellow, "MIS 2"]].forEach((r, i) => {
    const yy = b.y + 36 + i * 22;
    svg.append("circle").attr("cx", 899).attr("cy", yy).attr("r", 2.4)
      .attr("fill", "none").attr("stroke", r[1]).attr("stroke-width", 1.3);
    svg.append("text").attr("x", 913).attr("y", yy + 5).attr("font-size", 13.5).attr("fill", "#222")
      .text(r[2] + " (R² = " + r[0] + ")");
  });
}

scatterPanel({ name: "d", bottom: 299, mis3: dMis3, mis2: dMis2, fit3: fitD3, fit2: fitD2,
  letter: [27, 93],
  legend: { y: 29, w: 143, tx: 894, title: "No salinity correction", r3: "0.21", r2: "0.55" } });
scatterPanel({ name: "e", bottom: 597, mis3: eMis3, mis2: eMis2, fit3: fitE3, fit2: fitE2,
  letter: [30, 388],
  legend: { y: 358, w: 137, tx: 899, title: "Salinity correction", r3: "0.01", r2: "0.16" } });

// caption: each line is drawn at its natural width, then squeezed to the reference width
const capLines = [
  [[{ t: "Fig. 3", b: 1 }, { t: " Comparison among the results with three different calibrations for KR07-12 PC-01: “No salinity correction” (gray), “salinity correction” (red)," }], 1242],
  [[{ t: "and “endmember correction” (blue). " }, { t: "a", b: 1 }, { t: " δ" }, { t: "18", s: "sup" },
    { t: "O of planktic foraminifer (δ" }, { t: "18", s: "sup" }, { t: "O" }, { t: "p", s: "sub" }, { t: "). " },
    { t: "b", b: 1 }, { t: " SST. " }, { t: "c", b: 1 }, { t: " δ" }, { t: "18", s: "sup" }, { t: "O" },
    { t: "w-local", s: "sub" }, { t: ". " }, { t: "d", b: 1 }, { t: " SST vs. δ" }, { t: "18", s: "sup" },
    { t: "O" }, { t: "w-local", s: "sub" }, { t: " derived from “no salinity" }], 1190],
  [[{ t: "correction” calibration method. " }, { t: "e", b: 1 }, { t: " SST vs. δ" }, { t: "18", s: "sup" },
    { t: "O" }, { t: "w-local", s: "sub" }, { t: " derived from “salinity correction” calibration method" }], 699]
];
capLines.forEach((l, i) => {
  const t = rich(svg.append("text").attr("x", 0).attr("y", 0)
    .attr("font-family", "'Liberation Sans Narrow', 'Liberation Sans', sans-serif")
    .attr("fill", "#222"), l[0], 19.5);
  const w = t.node().getComputedTextLength();
  t.attr("transform", "translate(20," + (673 + i * 24.5) + ") scale(" + (l[1] / w) + ",1)");
});
</script>
</body>
</html>
